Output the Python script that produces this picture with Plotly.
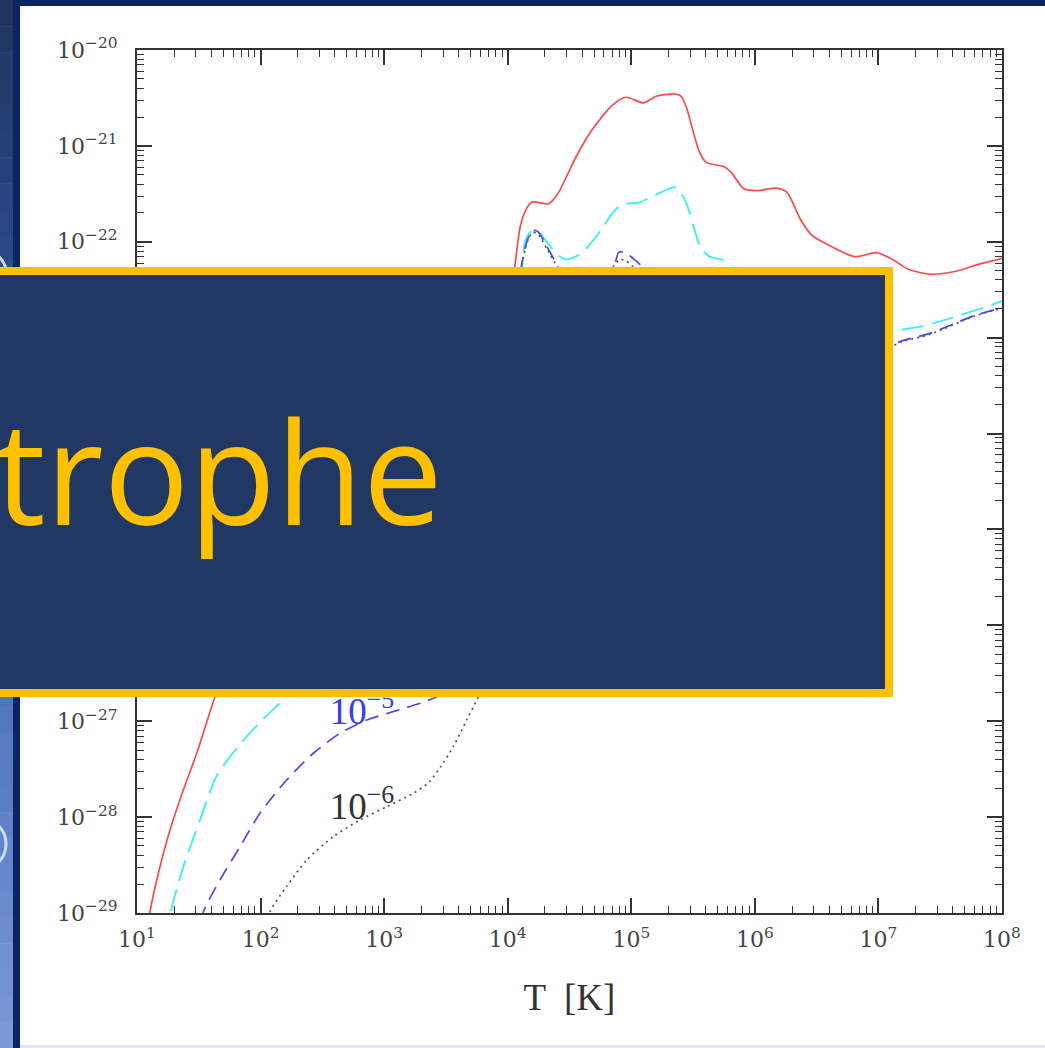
import plotly.graph_objects as go

# ---- data (log10 values) ----
red_logT = [1.08, 1.105, 1.173, 1.267, 1.375, 1.483, 1.631, 1.8, 2.0, 2.3, 2.6, 3.0, 3.4, 3.8, 3.95, 4.0, 4.058,
            4.101, 4.145, 4.197, 4.333, 4.405, 4.55, 4.666, 4.839, 4.955, 5.1, 5.201, 5.346, 5.404, 5.447, 5.548,
            5.606, 5.751, 5.809, 5.91, 6.026, 6.171, 6.258, 6.373, 6.46, 6.547, 6.807, 6.981, 7.097, 7.242, 7.415,
            7.618, 7.821, 8.0]
red_logL = [-29.25, -28.99, -28.586, -28.134, -27.717, -27.334, -26.744, -26.15, -25.65, -25.2, -24.95, -24.75,
            -24.55, -24.2, -23.6, -23.0, -22.259, -21.845, -21.672, -21.586, -21.603, -21.5, -21.121, -20.862,
            -20.586, -20.493, -20.552, -20.483, -20.459, -20.483, -20.603, -21.052, -21.172, -21.217, -21.276,
            -21.448, -21.466, -21.441, -21.483, -21.776, -21.931, -22.0, -22.155, -22.114, -22.172, -22.286,
            -22.338, -22.31, -22.231, -22.172]

cyan_logT = [1.24, 1.273, 1.375, 1.51, 1.645, 1.834, 2.022, 2.211, 2.5, 3.0, 3.5, 3.9, 4.0, 4.05, 4.116, 4.145,
             4.203, 4.26, 4.347, 4.405, 4.478, 4.55, 4.637, 4.753, 4.854, 4.926, 5.056, 5.187, 5.346, 5.389, 5.447,
             5.505, 5.563, 5.635, 5.737, 5.809, 6.0, 6.3, 6.6, 6.9, 7.126, 7.175, 7.357, 7.525, 7.768, 7.876, 8.0]
cyan_logL = [-29.3, -28.99, -28.517, -28.03, -27.57, -27.24, -26.975, -26.744, -26.35, -25.95, -25.6, -25.2,
             -24.3, -23.2, -22.259, -21.983, -21.872, -21.914, -22.052, -22.138, -22.183, -22.155, -22.069, -21.879,
             -21.69, -21.61, -21.593, -21.517, -21.431, -21.466, -21.603, -21.845, -22.069, -22.155, -22.19, -22.266,
             -22.45, -22.62, -22.78, -22.89, -22.931, -22.92, -22.879, -22.82, -22.72, -22.677, -22.617]

blue_logT = [1.5, 1.537, 1.672, 1.834, 1.995, 2.211, 2.427, 2.643, 2.859, 3.074, 3.29, 3.425, 3.7, 3.9, 3.98,
             4.05, 4.11, 4.159, 4.203, 4.246, 4.318, 4.405, 4.5, 4.65, 4.8, 4.863, 4.897, 4.941, 5.013, 5.085, 5.2,
             5.5, 6.0, 6.5, 7.0, 7.175, 7.417, 7.768, 8.0]
blue_logL = [-29.3, -28.99, -28.655, -28.308, -27.96, -27.613, -27.334, -27.126, -26.987, -26.9, -26.813, -26.744,
             -26.5, -26.1, -25.0, -23.4, -22.259, -21.983, -21.879, -21.897, -22.052, -22.259, -22.55, -22.7,
             -22.45, -22.259, -22.114, -22.103, -22.172, -22.259, -22.6, -23.1, -23.4, -23.35, -23.15, -23.04,
             -22.955, -22.774, -22.687]

black_logT = [2.05, 2.076, 2.211, 2.373, 2.589, 2.805, 3.021, 3.236, 3.36, 3.46, 3.56, 3.668, 3.762, 3.9, 3.98,
              4.05, 4.11, 4.159, 4.203, 4.25, 4.32, 4.405, 4.5, 4.65, 4.8, 4.854, 4.912, 4.955, 5.013, 5.085, 5.2,
              5.5, 6.0, 6.5, 7.0, 7.175, 7.417, 7.768, 8.0]
black_logL = [-29.3, -28.99, -28.724, -28.447, -28.204, -28.03, -27.891, -27.752, -27.64, -27.47, -27.265,
              -26.987, -26.744, -26.2, -25.0, -23.4, -22.28, -22.0, -21.9, -21.93, -22.08, -22.28, -22.57, -22.72,
              -22.48, -22.259, -22.183, -22.197, -22.259, -22.32, -22.62, -23.12, -23.41, -23.36, -23.16, -23.05,
              -22.965, -22.78, -22.69]

label_text = ["10<sup>\u22125</sup>", "10<sup>\u22126</sup>"]
label_logT = [2.82, 2.82]
label_logL = [-26.93, -27.92]

x_tick_exp = [1, 2, 3, 4, 5, 6, 7, 8]
y_tick_exp = [-20, -21, -22, -23, -24, -25, -26, -27, -28, -29]

title_text = "trophe"
x_title = "T  [K]"

# ---- figure ----
W, H = 1045, 1048
L, R, T, B = 137, 1002, 50, 913


def px(x):
    return (x - L) / (R - L)


def py(y):
    return 1 - (y - T) / (B - T)


def lin(v):
    return [10 ** a for a in v]


fig = go.Figure()
serif = "Liberation Serif, Times New Roman, serif"
tickserif = "DejaVu Serif, serif"

fig.add_trace(go.Scatter(x=lin(red_logT), y=lin(red_logL), mode="lines",
                         line=dict(color="#ff4a4a", width=1.7, shape="spline", smoothing=0.7), showlegend=False))
fig.add_trace(go.Scatter(x=lin(cyan_logT), y=lin(cyan_logL), mode="lines",
                         line=dict(color="#3ff0f0", width=1.9, dash="22px,9px", shape="spline", smoothing=0.7),
                         showlegend=False))
fig.add_trace(go.Scatter(x=lin(black_logT), y=lin(black_logL), mode="lines",
                         line=dict(color="#555555", width=1.7, dash="2px,4px", shape="spline", smoothing=0.7),
                         showlegend=False))
fig.add_trace(go.Scatter(x=lin(blue_logT), y=lin(blue_logL), mode="lines",
                         line=dict(color="#4a4af0", width=1.7, dash="14px,8px", shape="spline", smoothing=0.7),
                         showlegend=False))
fig.add_trace(go.Scatter(x=lin(label_logT), y=lin(label_logL), mode="text", text=label_text,
                         textfont=dict(family=serif, size=37, color=["#3a3af0", "#333333"]),
                         textposition="middle center", showlegend=False, hoverinfo="skip"))

shapes = []
# left gradient strip
stops = [(0, (31, 52, 94)), (250, (43, 74, 136)), (800, (92, 128, 200)), (1048, (123, 155, 216))]
n = 40
for i in range(n):
    y0 = H * i / n
    y1 = H * (i + 1) / n
    yc = (y0 + y1) / 2
    for j in range(len(stops) - 1):
        if stops[j][0] <= yc <= stops[j + 1][0]:
            f = (yc - stops[j][0]) / (stops[j + 1][0] - stops[j][0])
            c = tuple(int(stops[j][1][k] + f * (stops[j + 1][1][k] - stops[j][1][k])) for k in range(3))
            break
    shapes.append(dict(type="rect", xref="paper", yref="paper", x0=px(0), x1=px(13.5), y0=py(y1 + 0.5),
                       y1=py(y0), fillcolor="rgb(%d,%d,%d)" % c, line=dict(width=0), layer="below"))
# navy frame
shapes.append(dict(type="rect", xref="paper", yref="paper", x0=px(13), x1=px(20), y0=py(H), y1=py(0),
                   fillcolor="#0b2463", line=dict(width=0), layer="below"))
shapes.append(dict(type="rect", xref="paper", yref="paper", x0=px(13), x1=px(W), y0=py(6), y1=py(0),
                   fillcolor="#0b2463", line=dict(width=0), layer="below"))
shapes.append(dict(type="rect", xref="paper", yref="paper", x0=px(20), x1=px(W), y0=py(H), y1=py(1045),
                   fillcolor="#e4e6f2", line=dict(width=0), layer="below"))
# decorative rings on the strip
shapes.append(dict(type="circle", xref="paper", yref="paper", x0=px(-45), x1=px(6), y0=py(870), y1=py(818),
                   line=dict(color="rgba(235,240,255,0.8)", width=3), layer="below"))
shapes.append(dict(type="circle", xref="paper", yref="paper", x0=px(-50), x1=px(7), y0=py(305), y1=py(248),
                   line=dict(color="rgba(235,240,255,0.85)", width=3), layer="below"))
# overlay box
shapes.append(dict(type="rect", xref="paper", yref="paper", x0=px(-5), x1=px(893), y0=py(697), y1=py(267),
                   fillcolor="#ffc000", line=dict(width=0), layer="above"))
shapes.append(dict(type="rect", xref="paper", yref="paper", x0=px(-5), x1=px(885), y0=py(689), y1=py(275),
                   fillcolor="#213962", line=dict(width=0), layer="above"))

fig.update_layout(
    width=W, height=H,
    margin=dict(l=L, r=W - R, t=T, b=H - B, pad=0),
    paper_bgcolor="white", plot_bgcolor="white",
    shapes=shapes,
    annotations=[dict(text=title_text, xref="paper", yref="paper", x=px(-7), y=py(470),
                      xanchor="left", yanchor="middle", showarrow=False,
                      font=dict(family="Open Sans, Noto Sans, sans-serif", size=142, color="#ffc000"))],
)

minor_x = [m * 10 ** k for k in range(1, 8) for m in range(2, 10)]
minor_y = [m * 10 ** k for k in range(-29, -20) for m in range(2, 10)]

fig.update_xaxes(type="log", range=[1, 8], showgrid=False, zeroline=False,
                 showline=True, linecolor="#333", linewidth=2, mirror="allticks",
                 ticks="inside", ticklen=15, tickwidth=1.5, tickcolor="#333",
                 tickvals=[10 ** e for e in x_tick_exp],
                 ticktext=["10<sup>%d</sup>" % e for e in x_tick_exp],
                 tickfont=dict(family=tickserif, size=22, color="#444"), ticklabelstandoff=6,
                 minor=dict(tickvals=minor_x, ticks="inside", ticklen=7, tickwidth=1.2, tickcolor="#333"),
                 title=dict(text=x_title, font=dict(family=serif, size=37, color="#333"), standoff=33))
fig.update_yaxes(type="log", range=[-29, -20], showgrid=False, zeroline=False,
                 showline=True, linecolor="#333", linewidth=2, mirror="allticks",
                 ticks="inside", ticklen=15, tickwidth=1.5, tickcolor="#333",
                 tickvals=[10 ** e for e in y_tick_exp],
                 ticktext=["10<sup>\u2212%d</sup>" % (-e) for e in y_tick_exp],
                 tickfont=dict(family=tickserif, size=22, color="#444"), ticklabelstandoff=13,
                 minor=dict(tickvals=minor_y, ticks="inside", ticklen=7, tickwidth=1.2, tickcolor="#333"))

fig.write_html("out.html")
